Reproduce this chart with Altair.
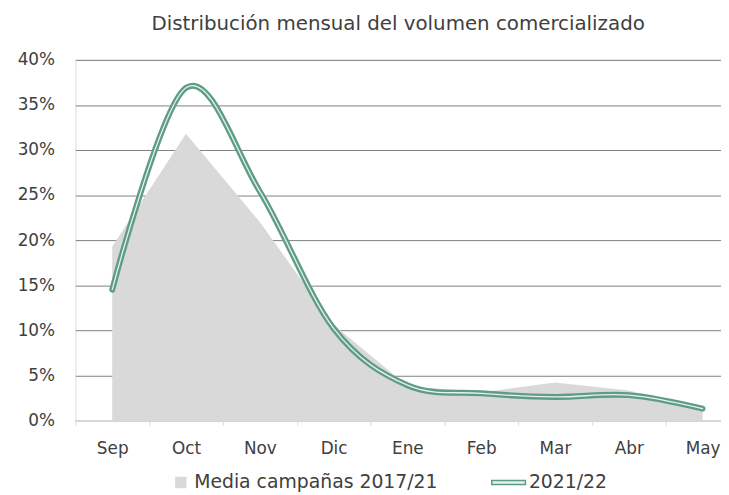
import json
import altair as alt
import pandas as pd

# ---- data ----
months = ["Sep", "Oct", "Nov", "Dic", "Ene", "Feb", "Mar", "Abr", "May"]
media_2017_21 = [19.3, 31.8, 22.0, 10.6, 3.8, 3.1, 4.2, 3.3, 1.3]
campana_2021_22 = [14.5, 36.9, 25.4, 10.2, 3.9, 3.0, 2.6, 2.8, 1.3]
series_names = ["Media campañas 2017/21", "2021/22"]
y_ticks = [0, 5, 10, 15, 20, 25, 30, 35, 40]
title_text = "Distribución mensual del volumen comercializado"

df = pd.DataFrame({
    "idx": list(range(len(months))),
    "mes": months,
    "media": media_2017_21,
    "c2122": campana_2021_22,
})
leg_df = pd.DataFrame({"serie": series_names})

FONT = "DejaVu Sans"
GRAY = "#d9d9d9"
GREEN = "#5e9c83"
LIGHT = "#e6f2ec"
TEXT = "#404040"
GRID = "#7f7f7f"

month_expr = json.dumps(months) + "[datum.value]"
boundaries = [i - 0.5 for i in range(len(months))]

xscale = alt.Scale(domain=[-0.5, 8.25], nice=False, zero=False)
yscale = alt.Scale(domain=[0, 40], nice=False)

y_axis = alt.Axis(values=y_ticks, labelExpr="datum.value + '%'",
                  ticks=False, domain=False, grid=True, gridColor=GRID,
                  gridWidth=1, labelPadding=21, title=None,
                  labelFontSize=17, labelColor=TEXT, labelFont=FONT)

area = alt.Chart(df).mark_area(color=GRAY, opacity=1).encode(
    x=alt.X("idx:Q", scale=xscale,
            axis=alt.Axis(values=list(range(len(months))), labelExpr=month_expr,
                          ticks=False, grid=False, domain=True, domainColor=GRAY,
                          domainWidth=1.5, labelFontSize=17, labelColor=TEXT,
                          labelFont=FONT, labelPadding=20, orient="bottom",
                          title=None, labelFlush=False, zindex=1)),
    y=alt.Y("media:Q", scale=yscale, axis=y_axis),
)

line_outer = alt.Chart(df).mark_line(
    color=GREEN, strokeWidth=6, interpolate="cardinal",
    strokeCap="round", strokeJoin="round"
).encode(
    x=alt.X("idx:Q", scale=xscale,
            axis=alt.Axis(values=boundaries, labels=False, ticks=True, tickSize=5,
                          tickColor=GRAY, tickWidth=1, domain=False, grid=False,
                          orient="bottom", title=None)),
    y=alt.Y("c2122:Q", scale=yscale),
)

line_inner = alt.Chart(df).mark_line(
    color=LIGHT, strokeWidth=1.3, interpolate="cardinal",
    strokeCap="round", strokeJoin="round"
).encode(
    x=alt.X("idx:Q", scale=xscale, axis=None),
    y=alt.Y("c2122:Q", scale=yscale),
)

square_path = "M-1,-1H1V1H-1Z"
line_path = "M-4.8,-0.4H2V0.4H-4.8Z"

leg = alt.Legend(title=None, orient="none", legendX=97, legendY=417,
                 direction="horizontal", symbolSize=100, labelFontSize=19,
                 labelFont=FONT, labelColor=TEXT, labelOffset=4,
                 columnPadding=51, symbolStrokeWidth=1.5, labelLimit=400)

legend_layer = alt.Chart(leg_df).transform_filter("false").mark_point(
    filled=True, opacity=1, strokeWidth=1.5
).encode(
    fill=alt.Fill("serie:N", scale=alt.Scale(domain=series_names, range=[GRAY, LIGHT]), legend=leg),
    stroke=alt.Stroke("serie:N", scale=alt.Scale(domain=series_names, range=[GRAY, GREEN]), legend=leg),
    shape=alt.Shape("serie:N", scale=alt.Scale(domain=series_names, range=[square_path, line_path]), legend=leg),
)

chart = alt.layer(area, line_outer, line_inner, legend_layer).resolve_axis(
    x="independent"
).properties(
    width=652, height=364,
    title=alt.TitleParams(title_text, anchor="middle", fontSize=20, font=FONT,
                          color=TEXT, fontWeight="normal", offset=17),
    autosize=alt.AutoSizeParams(type="none"),
    padding={"left": 68, "top": 50, "right": 0, "bottom": 72},
).configure_view(stroke=None).configure(background="white")

chart.save("out.html", embed_options={"renderer": "svg", "actions": False})
